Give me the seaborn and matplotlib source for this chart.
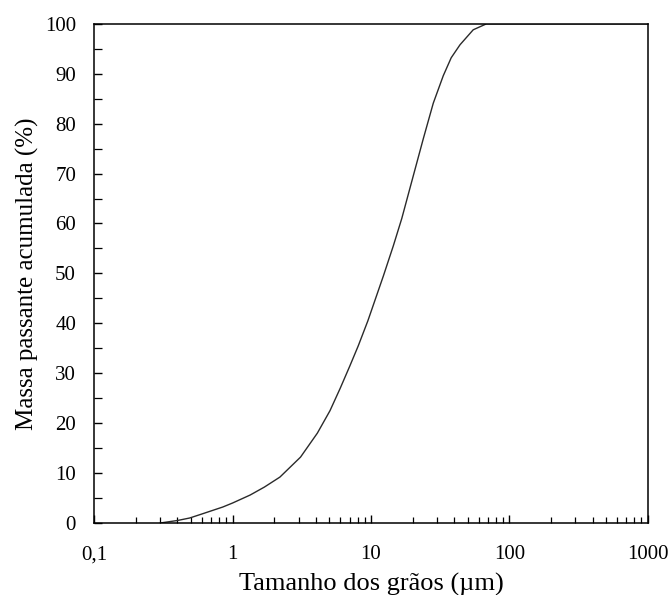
import matplotlib
matplotlib.use("Agg")
import matplotlib.pyplot as plt
from matplotlib.ticker import FixedLocator, LogLocator, NullFormatter, MultipleLocator
import numpy as np
import pandas as pd
import seaborn as sns

# Cumulative passing mass vs. grain size (laser granulometry)
grain_size_um = [0.30, 0.40, 0.49, 0.60, 0.85, 1.0, 1.34, 1.7, 2.2, 3.1,
                 4.1, 5.06, 6.0, 7.05, 8.1, 9.5, 12.3, 14.5, 16.7, 20.2,
                 23.9, 28.2, 33.3, 38.0, 44.0, 54.8, 68.4, 1000.0]
passing_pct = [0.0, 0.5, 1.0, 1.8, 3.2, 4.0, 5.6, 7.2, 9.2, 13.2,
               18.0, 22.5, 27.0, 31.5, 35.5, 40.5, 49.5, 55.5, 61.0, 69.5,
               77.0, 84.1, 89.6, 93.2, 95.8, 98.8, 100.0, 100.0]

x_tick_values = [0.1, 1, 10, 100, 1000]
x_tick_labels = ["0,1", "1", "10", "100", "1000"]
y_tick_values = [0, 10, 20, 30, 40, 50, 60, 70, 80, 90, 100]

df = pd.DataFrame({"size": grain_size_um, "passing": passing_pct})

sns.set_theme(style="white")
plt.rcParams["font.family"] = ["Liberation Serif", "DejaVu Serif"]

fig = plt.figure(figsize=(6.72, 5.95), dpi=100)
ax = fig.add_axes([0.140, 0.121, 0.824, 0.839])

sns.lineplot(data=df, x="size", y="passing", ax=ax, color="#2a2a2a",
             linewidth=1.0, sort=False, estimator=None)

ax.set_xscale("log")
ax.set_xlim(0.1, 1000)
ax.set_ylim(0, 100)

ax.xaxis.set_major_locator(FixedLocator(x_tick_values))
ax.set_xticklabels(x_tick_labels)
ax.xaxis.set_minor_locator(LogLocator(base=10, subs=np.arange(2, 10)))
ax.xaxis.set_minor_formatter(NullFormatter())
ax.set_yticks(y_tick_values)
ax.yaxis.set_minor_locator(MultipleLocator(5))

ax.tick_params(axis="x", which="major", direction="in", length=6,
               width=1.0, color="black", labelsize=15, labelcolor="black",
               bottom=True, top=False, pad=16)
ax.tick_params(axis="y", which="major", direction="in", length=6,
               width=1.0, color="black", labelsize=15, labelcolor="black",
               left=True, right=False, pad=13)
ax.tick_params(axis="x", which="minor", direction="in", length=4,
               width=0.9, color="black", bottom=True, top=False)
ax.tick_params(axis="y", which="minor", direction="in", length=6,
               width=0.9, color="black", left=True, right=False)

for spine in ax.spines.values():
    spine.set_visible(True)
    spine.set_color("black")
    spine.set_linewidth(1.1)

ax.set_xlabel("Tamanho dos grãos (µm)", fontsize=19, color="black", labelpad=6)
ax.set_ylabel("Massa passante acumulada (%)", fontsize=18, color="black", labelpad=4)
ax.grid(False)

fig.savefig("out.png", dpi=100, facecolor="white")
